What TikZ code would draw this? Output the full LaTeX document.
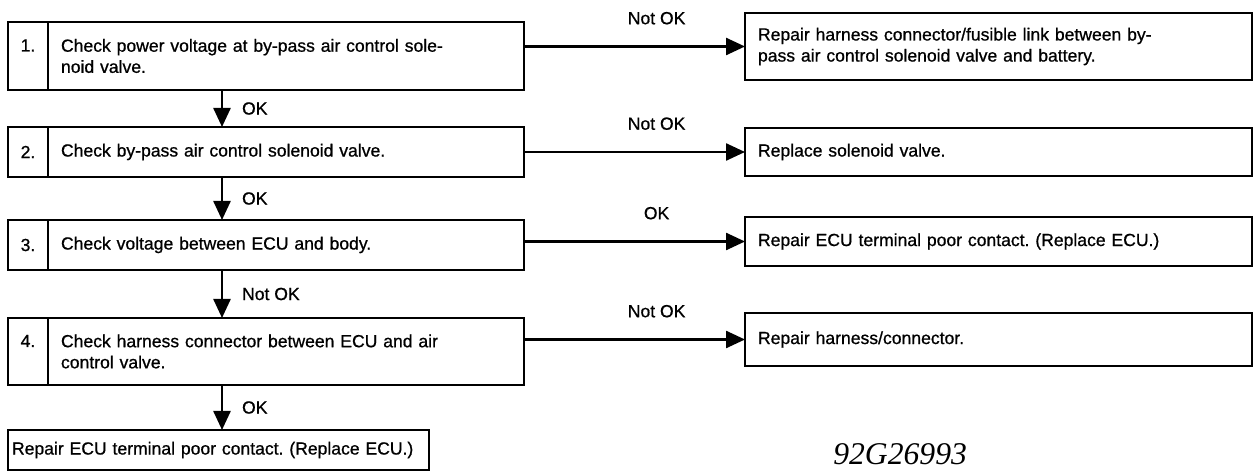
\documentclass[tikz,border=0pt]{standalone}
\usepackage{fontspec}
\setmainfont{Liberation Sans}[FakeBold=0.8]
\newfontfamily\codefont{Liberation Serif}
\usetikzlibrary{arrows.meta,positioning}
\frenchspacing

\begin{document}
\begin{tikzpicture}[
    >={Triangle[length=0.38cm, width=0.34cm]},
    txt/.style={font=\fontsize{10}{12}\selectfont},
    box/.style={rectangle, draw, line width=1.1pt, outer sep=0pt,
                txt, align=left, inner xsep=0.26cm, minimum height=#1},
    box/.default=1cm,
    numcell/.style={box=#1, minimum width=0.8cm, align=center,
                    inner xsep=0pt, anchor=north west},
    stepbox/.style={box=#1, text width=9.0cm},
    fixbox/.style={box=#1, text width=9.62cm},
    arr/.style={->, line width=1.4pt},
    lbl/.style={txt, above=0.3cm, pos=0.6},
    oklbl/.style={txt, right=0.26cm},
]

\useasboundingbox (0,0) rectangle (25.2,-9.48);

% ── Left column: checks ──
\node[numcell=1.36cm] (n1) at (0.16,-0.44) {1.\\\mbox{}};
\node[stepbox=1.36cm, right=0pt of n1] (s1)
    {Check power voltage at by-pass air control sole-\\noid valve.};

\node[numcell=1cm, below=0.74cm of n1] (n2) {2.};
\node[stepbox=1cm, right=0pt of n2] (s2) {Check by-pass air control solenoid valve.};

\node[numcell=1cm, below=0.86cm of n2] (n3) {3.};
\node[stepbox=1cm, right=0pt of n3] (s3) {Check voltage between ECU and body.};

\node[numcell=1.34cm, below=0.96cm of n3] (n4) {4.\\\mbox{}};
\node[stepbox=1.34cm, right=0pt of n4] (s4)
    {Check harness connector between ECU and air\\control valve.};

% ── Last step ──
\node[box=0.8cm, text width=8.26cm, inner xsep=0.08cm,
      below=0.9cm of n4.south west, anchor=north west] (fin)
    {Repair ECU terminal poor contact. (Replace ECU.)};

% ── Right column: repairs ──
\node[fixbox=1.34cm, right=4.42cm of s1, yshift=0.19cm] (r1)
    {Repair harness connector/fusible link between by-\\pass air control solenoid valve and battery.};
\node[fixbox=0.96cm, right=4.42cm of s2] (r2) {Replace solenoid valve.};
\node[fixbox=0.98cm, right=4.42cm of s3, yshift=0.07cm] (r3)
    {Repair ECU terminal poor contact. (Replace ECU.)};
\node[fixbox=1.06cm, right=4.42cm of s4, yshift=0.24cm] (r4) {Repair harness/connector.};

% ── Arrows: down the checks ──
\coordinate (spine) at (4.44,0);
\draw[arr] (spine |- n1.south) -- node[oklbl] {OK} (spine |- n2.north);
\draw[arr] (spine |- n2.south) -- node[oklbl] {OK} (spine |- n3.north);
\draw[arr] (spine |- n3.south) -- node[oklbl] {Not OK} (spine |- n4.north);
\draw[arr] (spine |- n4.south) -- node[oklbl] {OK} (spine |- fin.north);

% ── Arrows: across to repairs ──
\draw[arr] (s1.east |- r1.west) -- node[lbl] {Not OK} (r1.west);
\draw[arr] (s2.east |- r2.west) -- node[lbl] {Not OK} (r2.west);
\draw[arr] (s3.east |- r3.west) -- node[lbl] {OK} (r3.west);
\draw[arr] (s4.east |- r4.west) -- node[lbl] {Not OK} (r4.west);

% ── Figure code ──
\node[font=\codefont\itshape\fontsize{18}{22}\selectfont, anchor=base west,
      inner sep=0pt] (code) at (16.66,-9.3) {92G26993};

\end{tikzpicture}
\end{document}
